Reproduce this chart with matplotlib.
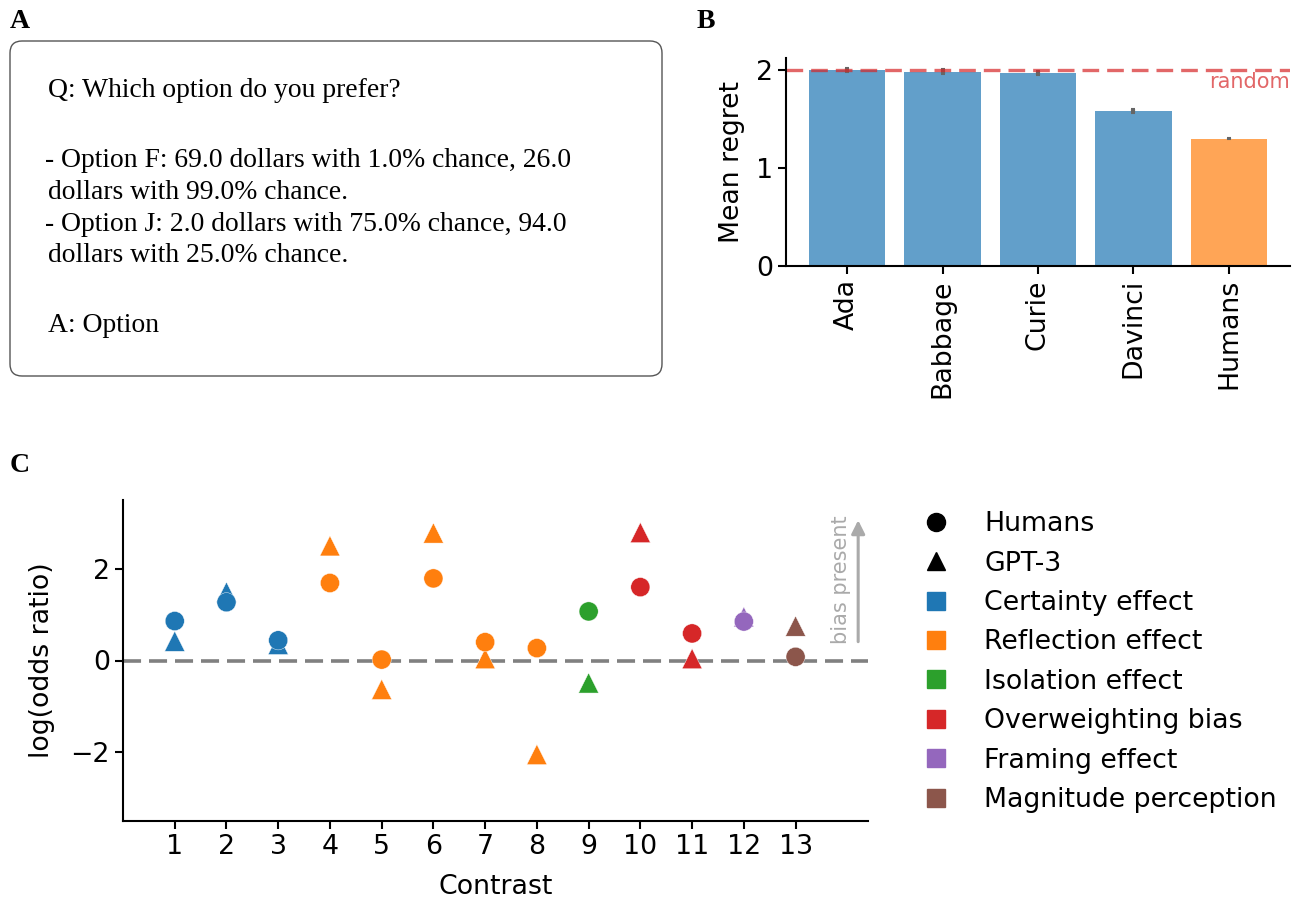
import matplotlib
matplotlib.use("Agg")
import matplotlib.pyplot as plt
from matplotlib.patches import FancyBboxPatch
from matplotlib.lines import Line2D
import numpy as np

# ---------------- data ----------------
prompt_lines = [
    "Q: Which option do you prefer?",
    "- Option F: 69.0 dollars with 1.0% chance, 26.0",
    "dollars with 99.0% chance.",
    "- Option J: 2.0 dollars with 75.0% chance, 94.0",
    "dollars with 25.0% chance.",
    "A: Option",
]
prompt_baselines_px = [97, 167, 199, 231, 262, 332]

models = ["Ada", "Babbage", "Curie", "Davinci", "Humans"]
regret = [2.00, 1.98, 1.97, 1.58, 1.30]
regret_err = [0.02, 0.025, 0.02, 0.02, 0.006]
random_regret = 2.0

contrasts = list(range(1, 14))
humans_lor = [0.86, 1.27, 0.44, 1.69, 0.02, 1.79, 0.40, 0.27, 1.07, 1.60, 0.59, 0.85, 0.08]
gpt3_lor = [0.42, 1.49, 0.35, 2.50, -0.63, 2.78, 0.04, -2.05, -0.49, 2.79, 0.04, 0.95, 0.75]
effects = ["Certainty effect", "Reflection effect", "Isolation effect",
           "Overweighting bias", "Framing effect", "Magnitude perception"]
contrast_effect = [0, 0, 0, 1, 1, 1, 1, 1, 2, 3, 3, 4, 5]
effect_colors = ["#1f77b4", "#ff7f0e", "#2ca02c", "#d62728", "#9467bd", "#8c564b"]

# ---------------- figure ----------------
W, H = 1296, 900
fig = plt.figure(figsize=(W / 100, H / 100), dpi=100)
FS = 19.3

def fx(px):
    return px / W

def fy(py):
    return 1 - py / H

# Panel labels
for lab, x, y in [("A", 10, 22), ("B", 697, 22), ("C", 10, 465)]:
    fig.text(fx(x), fy(y), lab, family="Liberation Serif", fontweight="bold",
             fontsize=20, ha="left", va="center")

# ---------------- Panel A ----------------
box = FancyBboxPatch((fx(10), fy(376)), fx(662) - fx(10), fy(41) - fy(376),
                     boxstyle="round,pad=0,rounding_size=0.0093",
                     mutation_aspect=1.44, transform=fig.transFigure,
                     facecolor="white", edgecolor="#555555", linewidth=1.0)
fig.patches.append(box)
for line, yb in zip(prompt_lines, prompt_baselines_px):
    xoff = 45 if line.startswith("-") else 48
    fig.text(fx(xoff), fy(yb), line, family="Liberation Serif", fontsize=19.9,
             ha="left", va="baseline")

# ---------------- Panel B ----------------
axB = fig.add_axes([fx(786), fy(266), fx(1290) - fx(786), fy(58) - fy(266)])
bar_colors = ["#1f77b4"] * 4 + ["#ff7f0e"]
xpos = np.arange(len(models))
axB.bar(xpos, regret, width=0.8, color=bar_colors, alpha=0.7)
axB.errorbar(xpos, regret, yerr=regret_err, fmt="none", ecolor="#666666",
             elinewidth=3, capsize=1.5, capthick=1.5)
axB.axhline(random_regret, color="#d62728", alpha=0.7, linestyle=(0, (5, 2.4)),
            linewidth=2.4)
axB.text(1.0, (random_regret - 0.02), "random", transform=axB.get_yaxis_transform(),
         ha="right", va="top", color="#d62728", alpha=0.7, fontsize=15)
axB.set_xticks(xpos)
axB.set_xticklabels(models, rotation=90, fontsize=FS)
axB.set_yticks([0, 1, 2])
axB.tick_params(axis="y", labelsize=FS)
axB.set_ylabel("Mean regret", fontsize=FS, labelpad=8)
axB.spines["top"].set_visible(False)
axB.spines["right"].set_visible(False)
axB.spines["left"].set_linewidth(1.5)
axB.spines["bottom"].set_linewidth(1.5)
axB.tick_params(width=1.5, length=6)

# ---------------- Panel C ----------------
axC = fig.add_axes([fx(123), fy(821), fx(868) - fx(123), fy(500) - fy(821)])
cols = [effect_colors[e] for e in contrast_effect]
axC.axhline(0, color="#808080", linestyle=(0, (5, 2.2)), linewidth=2.6, zorder=1)
axC.scatter(contrasts, gpt3_lor, marker="^", s=210, c=cols, edgecolors="white",
            linewidths=0.3, zorder=3)
axC.scatter(contrasts, humans_lor, marker="o", s=190, c=cols, edgecolors="white",
            linewidths=0.3, zorder=3)
axC.set_xlim(0, 14.4)
axC.set_ylim(-3.5, 3.5)
axC.set_xticks(contrasts)
axC.set_yticks([-2, 0, 2])
axC.tick_params(labelsize=FS, width=1.5, length=6)
axC.set_xlabel("Contrast", fontsize=FS, labelpad=10)
axC.set_ylabel("log(odds ratio)", fontsize=FS, labelpad=11)
axC.spines["top"].set_visible(False)
axC.spines["right"].set_visible(False)
axC.spines["left"].set_linewidth(1.5)
axC.spines["bottom"].set_linewidth(1.5)
axC.annotate("", xy=(14.21, 3.12), xytext=(14.21, 0.35),
             arrowprops=dict(arrowstyle="-|>", color="#aaaaaa", lw=2.2,
                             mutation_scale=20))
axC.text(13.88, 1.76, "bias present", rotation=90, ha="center", va="center",
         color="#aaaaaa", fontsize=15)

handles = [Line2D([], [], marker="o", color="black", linestyle="none", markersize=13),
           Line2D([], [], marker="^", color="black", linestyle="none", markersize=13)]
labels = ["Humans", "GPT-3"]
for name, c in zip(effects, effect_colors):
    handles.append(Line2D([], [], marker="s", color=c, linestyle="none", markersize=13))
    labels.append(name)
fig.legend(handles, labels, loc="upper left", bbox_to_anchor=(fx(885), fy(487)),
           frameon=False, fontsize=FS, handletextpad=0.8, labelspacing=0.5)

fig.savefig("out.png", dpi=100)
